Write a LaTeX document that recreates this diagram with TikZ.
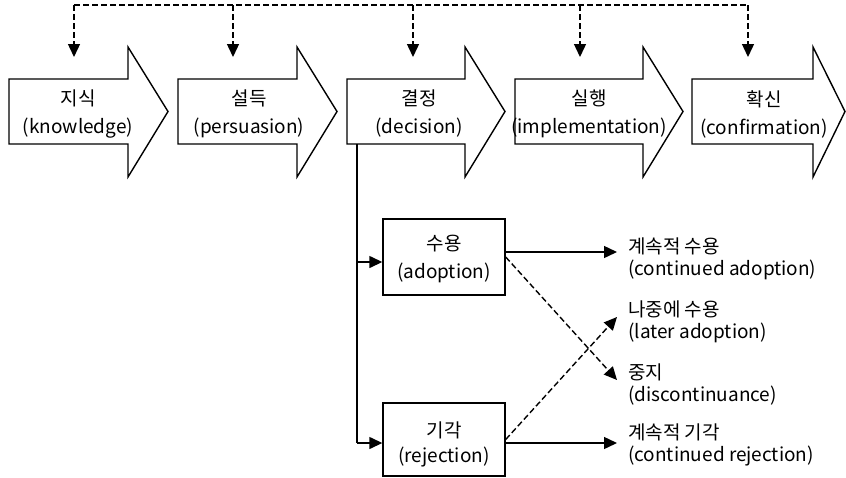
\documentclass[tikz,border=0pt]{standalone}
\usepackage{fontspec}
\setmainfont{Noto Sans CJK KR}
\usetikzlibrary{arrows.meta}
\tikzset{
  tip/.style={-{Triangle[length=13pt,width=12pt]}},
  ln/.style={line width=1.4pt},
  dsh/.style={ln, dash pattern=on 6pt off 3pt},
  bigarrow/.style={ln, line join=miter},
  lbl/.style={inner sep=0pt, align=center, font=\fontsize{19}{28}\selectfont},
  rlbl/.style={inner sep=0pt, anchor=west, align=left, font=\fontsize{19}{22}\selectfont},
  boxn/.style={ln, draw, minimum width=122pt, inner sep=0pt},
}
\begin{document}
\begin{tikzpicture}[x=1pt,y=-1pt]
\useasboundingbox (0,0) rectangle (846,477);
% big process arrows
\foreach \L/\B/\T in {9/128/168, 178/297/337, 347/465/505, 515/643/683, 692/813/845}{
  \draw[bigarrow] (\L,79) -- (\B,79) -- (\B,47) -- (\T,111.5) -- (\B,177) -- (\B,144) -- (\L,144) -- cycle;
}
\node[lbl] (k) at (78,114) {지식\\(knowledge)};
\node[lbl] (p) at (249,114) {설득\\(persuasion)};
\node[lbl] (d) at (419,114) {결정\\(decision)};
\node[lbl] (i) at (589,114) {실행\\(implementation)};
\node[lbl] (c) at (764,114) {확신\\(confirmation)};
% top dashed feedback
\coordinate (tl) at (74,5);
\coordinate (tr) at (748,5);
\coordinate (d1) at (74,57);
\coordinate (d2) at (233,57);
\coordinate (d3) at (413,57);
\coordinate (d4) at (580,57);
\coordinate (d5) at (748,57);
\draw[dsh] (tl) -- (tr);
\foreach \n in {d1,d2,d3,d4,d5}{
  \draw[dsh, tip] (\n |- tl) -- (\n);
}
% decision branches
\node[boxn, minimum height=76pt] (adop) at (444,257) {};
\node[lbl] (adopt) at (444,259) {수용\\(adoption)};
\node[boxn, minimum height=73pt] (rej) at (444,439.5) {};
\node[lbl, font=\fontsize{19}{25}\selectfont] (rejt) at (444,444) {기각\\(rejection)};
\coordinate (vtop) at (357,144);
\draw[ln] (vtop) -- (357,443);
\draw[ln, tip] (357,262) -- (adop.west |- 0,262);
\draw[ln, tip] (357,443) -- (rej.west |- 0,443);
% outcomes
\node[rlbl] (ca) at (628,259) {계속적 수용\\(continued adoption)};
\node[rlbl] (la) at (628,322) {나중에 수용\\(later adoption)};
\node[rlbl] (dc) at (628,384) {중지\\(discontinuance)};
\node[rlbl] (cr) at (628,445) {계속적 기각\\(continued rejection)};
\draw[ln, tip] (adop.east |- 0,252) -- (617,252);
\draw[ln, tip] (rej.east |- 0,443) -- (617,443);
\draw[dsh, tip] (adop.east) -- (617,380);
\draw[dsh, tip] (rej.east) -- (617,317);
\end{tikzpicture}
\end{document}
